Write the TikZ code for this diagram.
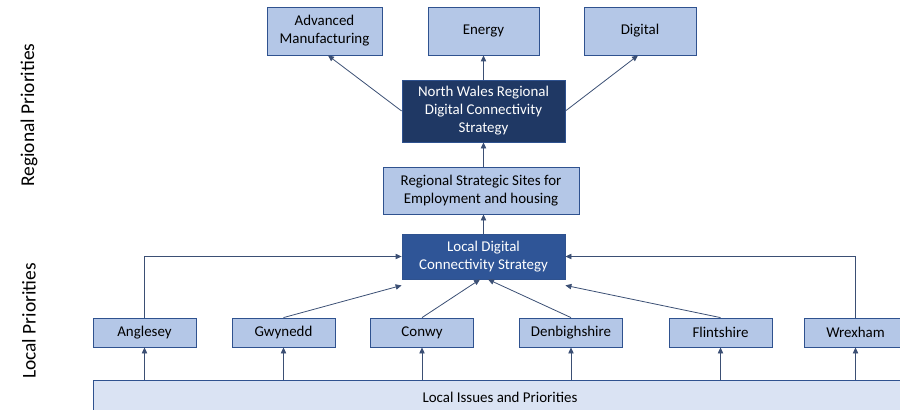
\documentclass[tikz,border=0pt]{standalone}
\usepackage{fontspec}
\setmainfont{Carlito}
\usepackage{xcolor}
\usepackage{tikz}
\usetikzlibrary{arrows.meta,calc}

\definecolor{boxline}{RGB}{47,82,143}
\definecolor{boxfill}{RGB}{180,199,231}
\definecolor{barfill}{RGB}{218,227,243}
\definecolor{navyfill}{RGB}{31,56,100}
\definecolor{midfill}{RGB}{47,85,151}
\definecolor{linkline}{RGB}{59,79,116}

\tikzset{
  areabox/.style={draw=boxline, fill=boxfill, line width=0.6pt, align=center, inner sep=1pt, font=\fontsize{11.2}{13.5}\selectfont},
  stratbox/.style={areabox, fill=navyfill, text=white},
  localbox/.style={areabox, fill=midfill, text=white},
  link/.style={draw=linkline, line width=0.6pt, -{Triangle[length=4.5pt,width=4pt]}},
  sidelabel/.style={rotate=90, font=\fontsize{14.6}{16}\selectfont}
}

\begin{document}
\begin{tikzpicture}[x=0.75pt,y=0.75pt,yscale=-1,xscale=1]
      \useasboundingbox (0,0) rectangle (900,410);

      % Side labels
      \node [sidelabel] (regional) at (29,115) {Regional Priorities};
      \node [sidelabel] (local) at (29,321) {Local Priorities};

      % Regional priorities
      \node [areabox, minimum width=86.25pt, minimum height=36pt] (adv) at (324.5,31) {Advanced\\Manufacturing};
      \node [areabox, minimum width=83.25pt, minimum height=36pt] (energy) at (483.5,31) {Energy};
      \node [areabox, minimum width=84pt, minimum height=36pt] (digital) at (640,31) {Digital};

      % Strategies
      \node [stratbox, minimum width=122.25pt, minimum height=46.5pt] (nwr) at (483.5,111) {North Wales Regional\\Digital Connectivity\\Strategy};
      \node [areabox, minimum width=147pt, minimum height=35.25pt] (rss) at (481,190.5) {Regional Strategic Sites for\\Employment and housing};
      \node [localbox, minimum width=122.25pt, minimum height=33.75pt] (ldc) at (483.5,256.5) {Local Digital\\Connectivity Strategy};

      % Local authorities
      \node [areabox, minimum width=77.25pt, minimum height=21.75pt] (anglesey) at (144.5,332.5) {Anglesey};
      \node [areabox, minimum width=77.25pt, minimum height=21.75pt] (gwynedd) at (283.5,332.5) {Gwynedd};
      \node [areabox, minimum width=77.25pt, minimum height=21.75pt] (conwy) at (422,332.5) {Conwy};
      \node [areabox, minimum width=77.25pt, minimum height=21.75pt] (denbigh) at (571,332.5) {Denbighshire};
      \node [areabox, minimum width=77.25pt, minimum height=21.75pt] (flint) at (720.5,332.5) {Flintshire};
      \node [areabox, minimum width=77.25pt, minimum height=21.75pt] (wrexham) at (855.5,332.5) {Wrexham};

      % Local issues bar
      \node [areabox, fill=barfill, minimum width=610.5pt, minimum height=25.5pt] (issues) at (500,397) {Local Issues and Priorities};

      % Bar to local authorities
      \foreach \la in {anglesey,gwynedd,conwy,denbigh,flint,wrexham}
        \draw [link] (\la |- issues.north) -- (\la.south);

      % Local authorities to local strategy
      \draw [link] (anglesey.north) |- (ldc.west);
      \draw [link] (wrexham.north) |- (ldc.east);
      \draw [link] (gwynedd.north) -- ([yshift=4.5pt]ldc.south west);
      \draw [link] (flint.north) -- ([yshift=4.5pt]ldc.south east);
      \draw [link] (conwy.north) -- ([xshift=-2.6pt]ldc.south);
      \draw [link] (denbigh.north) -- ([xshift=3.4pt]ldc.south);

      % Upwards to regional priorities
      \draw [link] (ldc.north) -- (ldc.north |- rss.south);
      \draw [link] (ldc.north |- rss.north) -- (nwr.south);
      \draw [link] (nwr.north) -- (energy.south);
      \draw [link] (nwr.west) -- ([xshift=2.6pt]adv.south);
      \draw [link] (nwr.east) -- ([xshift=-1.5pt]digital.south);
\end{tikzpicture}
\end{document}
